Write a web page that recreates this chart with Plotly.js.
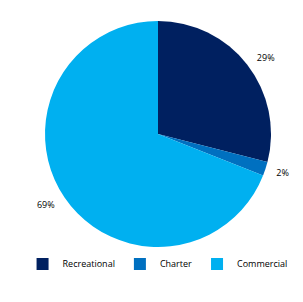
<!DOCTYPE html>
<html><head><meta charset="utf-8">
<script src="https://cdn.plot.ly/plotly-3.0.1.min.js"></script>
<style>html,body{margin:0;padding:0;background:#fff}#c{width:303px;height:302px}</style>
</head><body><div id="c"></div>
<script>
const categories = ["Recreational", "Charter", "Commercial"];
const values = [29, 2, 69];
const colors = ["#002060", "#0070C0", "#00B0F0"];

const W = 303, H = 302;
const cx = 158, cy = 134, r = 113, rl = 121;
function dom(rad) {
  return {x: [(cx - rad) / W, (cx + rad) / W], y: [(H - cy - rad) / H, (H - cy + rad) / H]};
}
const font = {family: "Open Sans, DejaVu Sans, sans-serif", size: 9, color: "#000"};

Plotly.newPlot("c", [{
  type: "pie",
  labels: categories,
  values: values,
  sort: false,
  direction: "clockwise",
  rotation: 0,
  marker: {colors: colors, line: {width: 0}},
  textinfo: "none",
  domain: dom(r),
  hoverinfo: "none"
}, {
  type: "pie",
  labels: categories,
  values: values,
  sort: false,
  direction: "clockwise",
  rotation: 0,
  showlegend: false,
  marker: {colors: ["rgba(0,0,0,0)", "rgba(0,0,0,0)", "rgba(0,0,0,0)"], line: {width: 0}},
  texttemplate: "%{percent:.0%}",
  textposition: "outside",
  textfont: font,
  domain: dom(rl),
  hoverinfo: "none"
}], {
  width: W, height: H,
  margin: {l: 0, r: 0, t: 0, b: 0},
  paper_bgcolor: "#fff",
  showlegend: true,
  legend: {orientation: "h", x: 0.52, xanchor: "center", y: 0.126, yanchor: "middle",
    font: font, itemwidth: 30, traceorder: "normal"}
}, {staticPlot: true});
</script></body></html>
